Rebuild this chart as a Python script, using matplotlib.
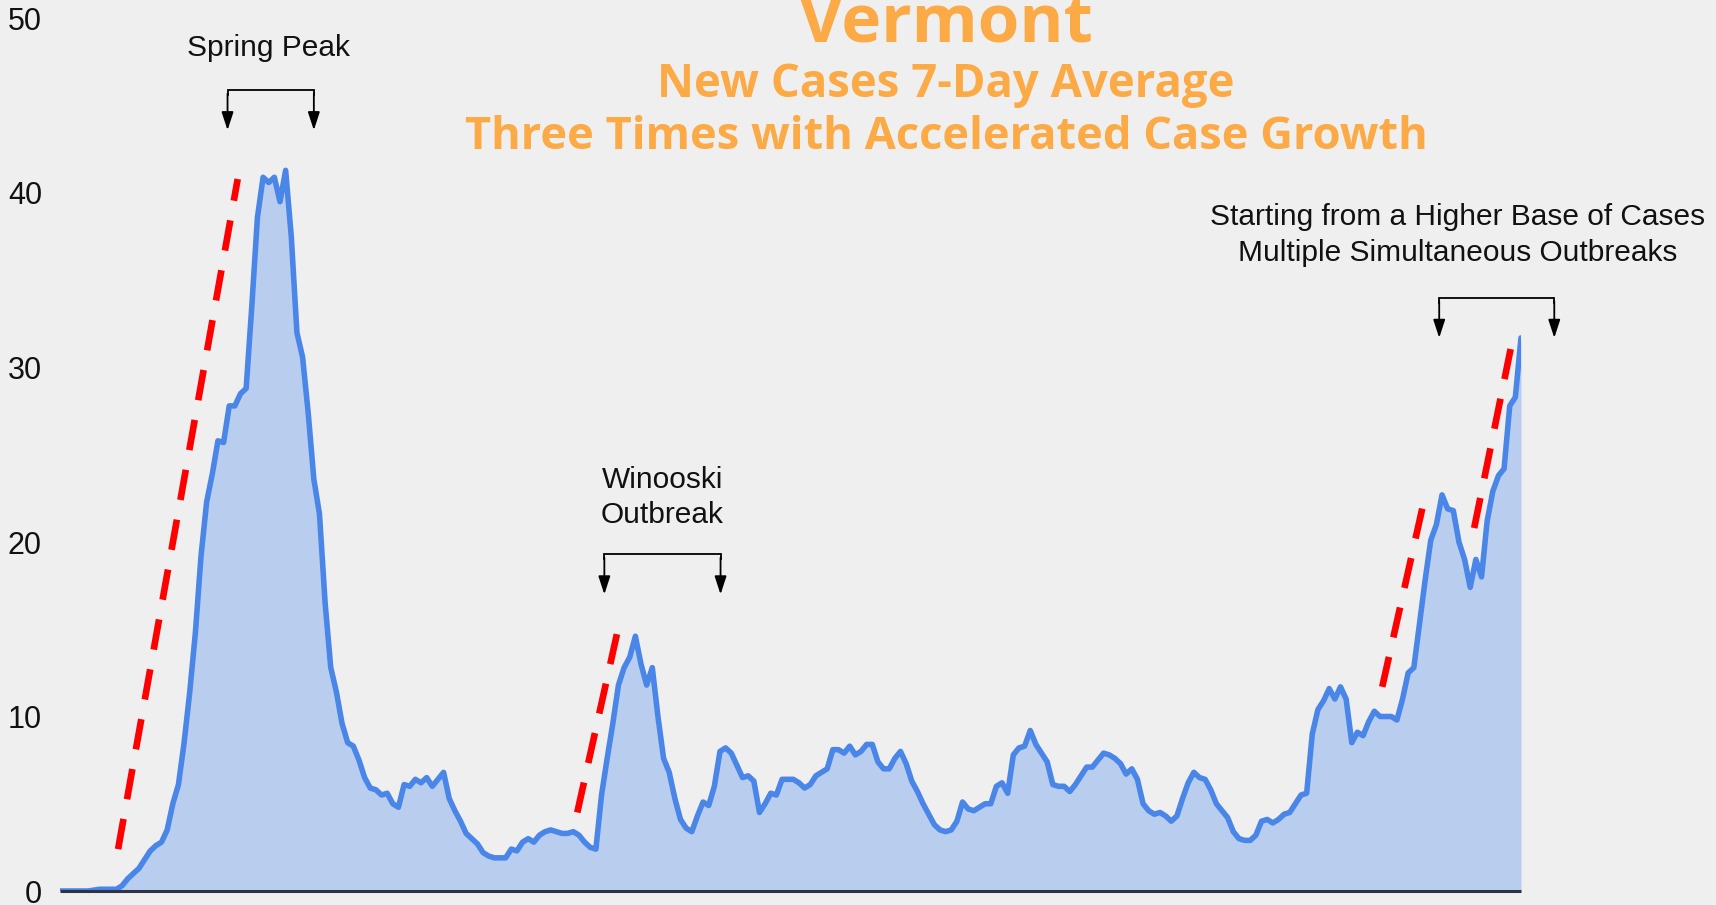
import matplotlib
matplotlib.use("Agg")
import matplotlib.pyplot as plt
import numpy as np

# ---------------- data ----------------
# Vermont, new cases 7-day average, one value per day (day 0 = start of chart)
cases = [
    0, 0, 0, 0, 0, 0, 0.05, 0.1, 0.1, 0.1,
    0.1, 0.3, 0.7, 1.0, 1.3, 1.8, 2.3, 2.6, 2.8, 3.5,
    5.0, 6.1, 8.5, 11.4, 14.8, 19.2, 22.3, 23.9, 25.8, 25.7,
    27.8, 27.8, 28.5, 28.8, 33.5, 38.6, 40.9, 40.6, 40.9, 39.5,
    41.3, 37.5, 32.0, 30.6, 27.4, 23.6, 21.6, 16.5, 12.8, 11.4,
    9.6, 8.5, 8.3, 7.5, 6.5, 5.9, 5.8, 5.5, 5.6, 5.0,
    4.8, 6.1, 6.0, 6.4, 6.2, 6.5, 6.0, 6.4, 6.8, 5.3,
    4.6, 4.0, 3.3, 3.0, 2.7, 2.2, 2.0, 1.9, 1.9, 1.9,
    2.4, 2.3, 2.8, 3.0, 2.8, 3.2, 3.4, 3.5, 3.4, 3.3,
    3.3, 3.4, 3.2, 2.8, 2.5, 2.4, 5.5, 7.6, 9.6, 11.8,
    12.8, 13.4, 14.6, 13.0, 11.8, 12.8, 10.0, 7.6, 6.8, 5.3,
    4.1, 3.6, 3.4, 4.3, 5.1, 4.9, 6.0, 8.0, 8.2, 7.9,
    7.2, 6.5, 6.6, 6.3, 4.5, 5.0, 5.6, 5.5, 6.4, 6.4,
    6.4, 6.2, 5.9, 6.1, 6.6, 6.8, 7.0, 8.1, 8.1, 7.9,
    8.3, 7.8, 8.0, 8.4, 8.4, 7.4, 7.0, 7.0, 7.6, 8.0,
    7.3, 6.3, 5.7, 5.0, 4.4, 3.8, 3.5, 3.4, 3.5, 4.0,
    5.1, 4.7, 4.6, 4.8, 5.0, 5.0, 6.0, 6.2, 5.6, 7.8,
    8.2, 8.3, 9.2, 8.4, 7.9, 7.4, 6.1, 6.0, 6.0, 5.7,
    6.1, 6.6, 7.1, 7.1, 7.5, 7.9, 7.8, 7.6, 7.3, 6.7,
    7.0, 6.4, 5.0, 4.6, 4.4, 4.5, 4.3, 4.0, 4.3, 5.3,
    6.2, 6.8, 6.5, 6.4, 5.8, 5.0, 4.6, 4.2, 3.4, 3.0,
    2.9, 2.9, 3.2, 4.0, 4.1, 3.9, 4.1, 4.4, 4.5, 5.0,
    5.5, 5.6, 9.0, 10.4, 10.9, 11.6, 11.0, 11.7, 11.0, 8.5,
    9.1, 8.9, 9.7, 10.3, 10.0, 10.0, 10.0, 9.8, 11.0, 12.5,
    12.8, 15.3, 17.8, 20.1, 21.0, 22.7, 21.9, 21.8, 20.0, 19.0,
    17.4, 19.0, 18.0, 21.2, 22.9, 23.8, 24.2, 27.8, 28.3, 31.7,
]
days = list(range(len(cases)))

y_ticks = [0, 10, 20, 30, 40, 50]

title = "Vermont"
subtitle_1 = "New Cases 7-Day Average"
subtitle_2 = "Three Times with Accelerated Case Growth"

# red dashed "acceleration" guides: (day0, value0, day1, value1)
guides = [
    (10.3, 2.4, 31.5, 40.8),
    (91.7, 4.5, 99.4, 15.7),
    (234.4, 11.7, 241.9, 22.5),
    (250.7, 20.8, 257.5, 31.6),
]

# bracket annotations: (text, text_day, text_value, left_day, right_day, top_value, tip_value)
brackets = [
    ("Spring Peak", 36.9, 48.3, 29.7, 45.0, 45.9, 43.6),
    ("Winooski\nOutbreak", 106.8, 22.55, 96.5, 117.1, 19.3, 17.0),
    ("Starting from a Higher Base of Cases\nMultiple Simultaneous Outbreaks",
     247.8, 37.6, 244.5, 264.9, 34.0, 31.7),
]

# ---------------- styling ----------------
BG = "#EFEFEF"
LINE = "#4A86E8"
FILL = "#B9CEEF"
ORANGE = "#FBAA45"
TEXT_FONT = ["Liberation Sans", "DejaVu Sans"]
TITLE_FONT = ["Open Sans", "DejaVu Sans"]

W, H = 1716, 905
fig = plt.figure(figsize=(W / 100, H / 100), dpi=100, facecolor=BG)
ax_left, ax_right = 60 / W, 1521 / W
ax_bottom, ax_top = (H - 891) / H, (H - 18.5) / H
ax = fig.add_axes([ax_left, ax_bottom, ax_right - ax_left, ax_top - ax_bottom])
ax.set_facecolor(BG)

ax.fill_between(days, cases, 0, color=FILL, lw=0, zorder=1)
ax.plot(days, cases, color=LINE, lw=4.0, solid_joinstyle="round",
        solid_capstyle="round", zorder=3)
ax.plot([days[0], days[-1]], [0, 0], color="#2E3445", lw=2.2, zorder=4,
        solid_capstyle="butt", clip_on=False)

for d0, v0, d1, v1 in guides:
    ax.plot([d0, d1], [v0, v1], color="#FF0000", lw=4.8, dashes=(4.6, 3.0),
            dash_capstyle="butt", zorder=5, clip_on=False)

for txt, tx, ty, xl, xr, top, tip in brackets:
    ax.text(tx, ty, txt, ha="center", va="center", fontsize=21.5,
            family=TEXT_FONT, color="#111111", linespacing=1.35, clip_on=False)
    ax.plot([xl, xl, xr, xr], [top - 0.3, top, top, top - 0.3], color="black",
            lw=1.3, clip_on=False, solid_joinstyle="miter")
    for xx in (xl, xr):
        ax.annotate("", xy=(xx, tip), xytext=(xx, top - 0.2),
                    arrowprops=dict(arrowstyle="-|>,head_length=0.55,head_width=0.18",
                                    color="black", lw=1.3, mutation_scale=20,
                                    shrinkA=0, shrinkB=0),
                    annotation_clip=False)

ax.set_xlim(days[0], days[-1])
ax.set_ylim(0, 50)
ax.set_yticks(y_ticks)
ax.set_yticklabels([str(t) for t in y_ticks], family=TEXT_FONT, fontsize=22,
                   color="#111111")
ax.tick_params(axis="y", length=0, pad=13)
ax.set_xticks([])
for s in ax.spines.values():
    s.set_visible(False)

cx = 946 / W
fig.text(cx, 1 - 42 / H, title, ha="center", va="baseline", color=ORANGE,
         fontsize=48.5, fontweight="bold", family=TITLE_FONT)
fig.text(cx, 1 - 97 / H, subtitle_1, ha="center", va="baseline", color=ORANGE,
         fontsize=32.8, fontweight="bold", family=TITLE_FONT)
fig.text(cx, 1 - 149 / H, subtitle_2, ha="center", va="baseline", color=ORANGE,
         fontsize=32.6, fontweight="bold", family=TITLE_FONT)

fig.savefig("out.png", dpi=100, facecolor=BG)
